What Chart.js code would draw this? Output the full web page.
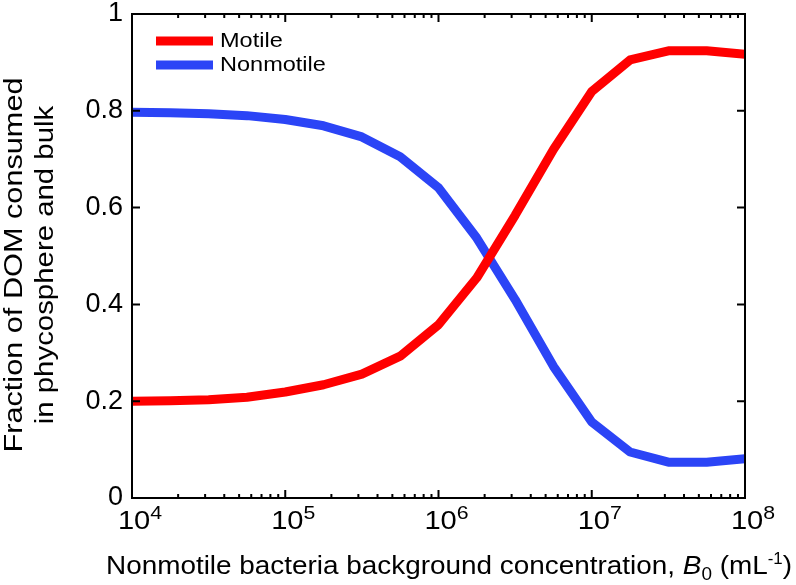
<!DOCTYPE html>
<html>
<head>
<meta charset="utf-8">
<script src="https://cdn.jsdelivr.net/npm/chart.js@4"></script>
<style>
  html, body { margin: 0; padding: 0; background: #fff; }
  #wrap { width: 796px; height: 585px; }
</style>
</head>
<body>
<div id="wrap"><canvas id="chart" width="796" height="585"></canvas></div>
<script>
// concentrations (quarter decades, 1e4 .. 1e8)
const concentration = [1e4, 1.778e4, 3.162e4, 5.623e4, 1e5, 1.778e5, 3.162e5, 5.623e5,
    1e6, 1.778e6, 3.162e6, 5.623e6, 1e7, 1.778e7, 3.162e7, 5.623e7, 1e8];
const motile = [0.200, 0.201, 0.203, 0.208, 0.219, 0.234, 0.256, 0.293,
    0.358, 0.455, 0.584, 0.720, 0.840, 0.905, 0.924, 0.924, 0.917];
const nonmotile = [0.797, 0.796, 0.794, 0.790, 0.782, 0.769, 0.746, 0.705,
    0.641, 0.537, 0.410, 0.272, 0.157, 0.095, 0.074, 0.074, 0.081];
const seriesNames = ['Motile', 'Nonmotile'];
const seriesColors = ['#ff0000', '#2b44f6'];
const decadeExponents = [4, 5, 6, 7, 8];
const yTicks = [0, 0.2, 0.4, 0.6, 0.8, 1];

const FONT = '"Liberation Sans", Arial, Helvetica, sans-serif';

function pts(ys) {
    return concentration.map((c, i) => ({x: c, y: ys[i]}));
}

// the reference lettering is a bit wider than Arial, so stretch it
function wideText(ctx, text, x, y, sx) {
    ctx.save();
    ctx.translate(x, y);
    ctx.scale(sx, 1);
    ctx.fillText(text, 0, 0);
    ctx.restore();
}

// box, inward ticks, x tick labels, axis titles, legend
const decorations = {
    id: 'decorations',
    afterDraw(chart) {
        const ctx = chart.ctx;
        const a = chart.chartArea;
        const x = chart.scales.x, y = chart.scales.y;
        ctx.save();
        ctx.strokeStyle = '#000';
        ctx.lineWidth = 2;
        ctx.beginPath();
        decadeExponents.forEach(function(e, i) {
            const px = x.getPixelForValue(Math.pow(10, e));
            ctx.moveTo(px, a.bottom); ctx.lineTo(px, a.bottom - 8);
            ctx.moveTo(px, a.top); ctx.lineTo(px, a.top + 8);
            if (i < decadeExponents.length - 1) {
                for (let m = 2; m <= 9; m++) {
                    const mx = x.getPixelForValue(m * Math.pow(10, e));
                    ctx.moveTo(mx, a.bottom); ctx.lineTo(mx, a.bottom - 4);
                    ctx.moveTo(mx, a.top); ctx.lineTo(mx, a.top + 4);
                }
            }
        });
        yTicks.forEach(function(v) {
            const py = y.getPixelForValue(v);
            ctx.moveTo(a.left, py); ctx.lineTo(a.left + 8, py);
            ctx.moveTo(a.right, py); ctx.lineTo(a.right - 8, py);
        });
        ctx.stroke();
        ctx.strokeRect(a.left, a.top, a.right - a.left, a.bottom - a.top);

        ctx.fillStyle = '#000';
        ctx.textBaseline = 'alphabetic';
        ctx.textAlign = 'left';

        // x tick labels 10^n
        const sx = 1.12;
        decadeExponents.forEach(function(e) {
            const px = x.getPixelForValue(Math.pow(10, e));
            ctx.font = '26px ' + FONT;
            const wb = ctx.measureText('10').width * sx;
            ctx.font = '19px ' + FONT;
            const we = ctx.measureText(String(e)).width * sx;
            const x0 = px + 8 - (wb + we) / 2;
            ctx.font = '26px ' + FONT;
            wideText(ctx, '10', x0, 529, sx);
            ctx.font = '19px ' + FONT;
            wideText(ctx, String(e), x0 + wb, 519, sx);
        });

        // x axis title with italic B, subscript 0 and superscript -1
        const parts = [
            ['Nonmotile bacteria background concentration, ', '26.5px ' + FONT, 0],
            ['B', 'italic 26.5px ' + FONT, 0],
            ['0', '18px ' + FONT, 6],
            [' (mL', '26.5px ' + FONT, 0],
            ['-1', '16px ' + FONT, -10],
            [')', '26.5px ' + FONT, 0]
        ];
        let total = 0;
        parts.forEach(function(p) { ctx.font = p[1]; total += ctx.measureText(p[0]).width; });
        ctx.save();
        ctx.translate(106, 574);
        ctx.scale(686 / total, 1);
        let cx = 0;
        parts.forEach(function(p) {
            ctx.font = p[1];
            ctx.fillText(p[0], cx, p[2]);
            cx += ctx.measureText(p[0]).width;
        });
        ctx.restore();

        // y axis title, two lines
        ctx.save();
        ctx.font = '26px ' + FONT;
        ctx.textAlign = 'center';
        ctx.translate(22, 265);
        ctx.rotate(-Math.PI / 2);
        wideText(ctx, 'Fraction of DOM consumed', 0, 0, 1.18);
        wideText(ctx, 'in phycosphere and bulk', 0, 31, 1.13);
        ctx.restore();

        // legend
        ctx.font = '21px ' + FONT;
        ctx.textAlign = 'left';
        ctx.lineWidth = 9;
        ctx.lineCap = 'butt';
        seriesNames.forEach(function(name, i) {
            const ly = 41 + i * 24;
            ctx.strokeStyle = seriesColors[i];
            ctx.beginPath();
            ctx.moveTo(156, ly); ctx.lineTo(213, ly);
            ctx.stroke();
            wideText(ctx, name, 220, ly + 6, 1.12);
        });
        ctx.restore();
    }
};

new Chart(document.getElementById('chart'), {
    type: 'line',
    data: {
        datasets: [
            {label: seriesNames[0], data: pts(motile), borderColor: seriesColors[0]},
            {label: seriesNames[1], data: pts(nonmotile), borderColor: seriesColors[1]}
        ].map(d => Object.assign(d, {
            borderWidth: 9, pointRadius: 0, tension: 0, fill: false,
            borderJoinStyle: 'round', clip: 0
        }))
    },
    options: {
        responsive: false,
        animation: false,
        events: [],
        layout: {padding: {top: 14, right: 51, left: 0, bottom: 0}},
        plugins: {legend: {display: false}, tooltip: {enabled: false}},
        scales: {
            x: {
                type: 'logarithmic', min: 1e4, max: 1e8,
                grid: {display: false, drawTicks: false},
                border: {display: false},
                ticks: {display: false},
                afterFit: function(s) {
                    s.height = 87;
                    s.paddingLeft = 0; s.paddingRight = 0;
                }
            },
            y: {
                min: 0, max: 1,
                grid: {display: false, drawTicks: false},
                border: {display: false},
                ticks: {
                    stepSize: 0.2, padding: 9, color: '#000',
                    font: {family: FONT, size: 27},
                    callback: v => String(+v.toFixed(1))
                },
                afterFit: function(s) {
                    s.width = 132;
                    s.paddingTop = 0; s.paddingBottom = 0;
                }
            }
        }
    },
    plugins: [decorations]
});
</script>
</body>
</html>
